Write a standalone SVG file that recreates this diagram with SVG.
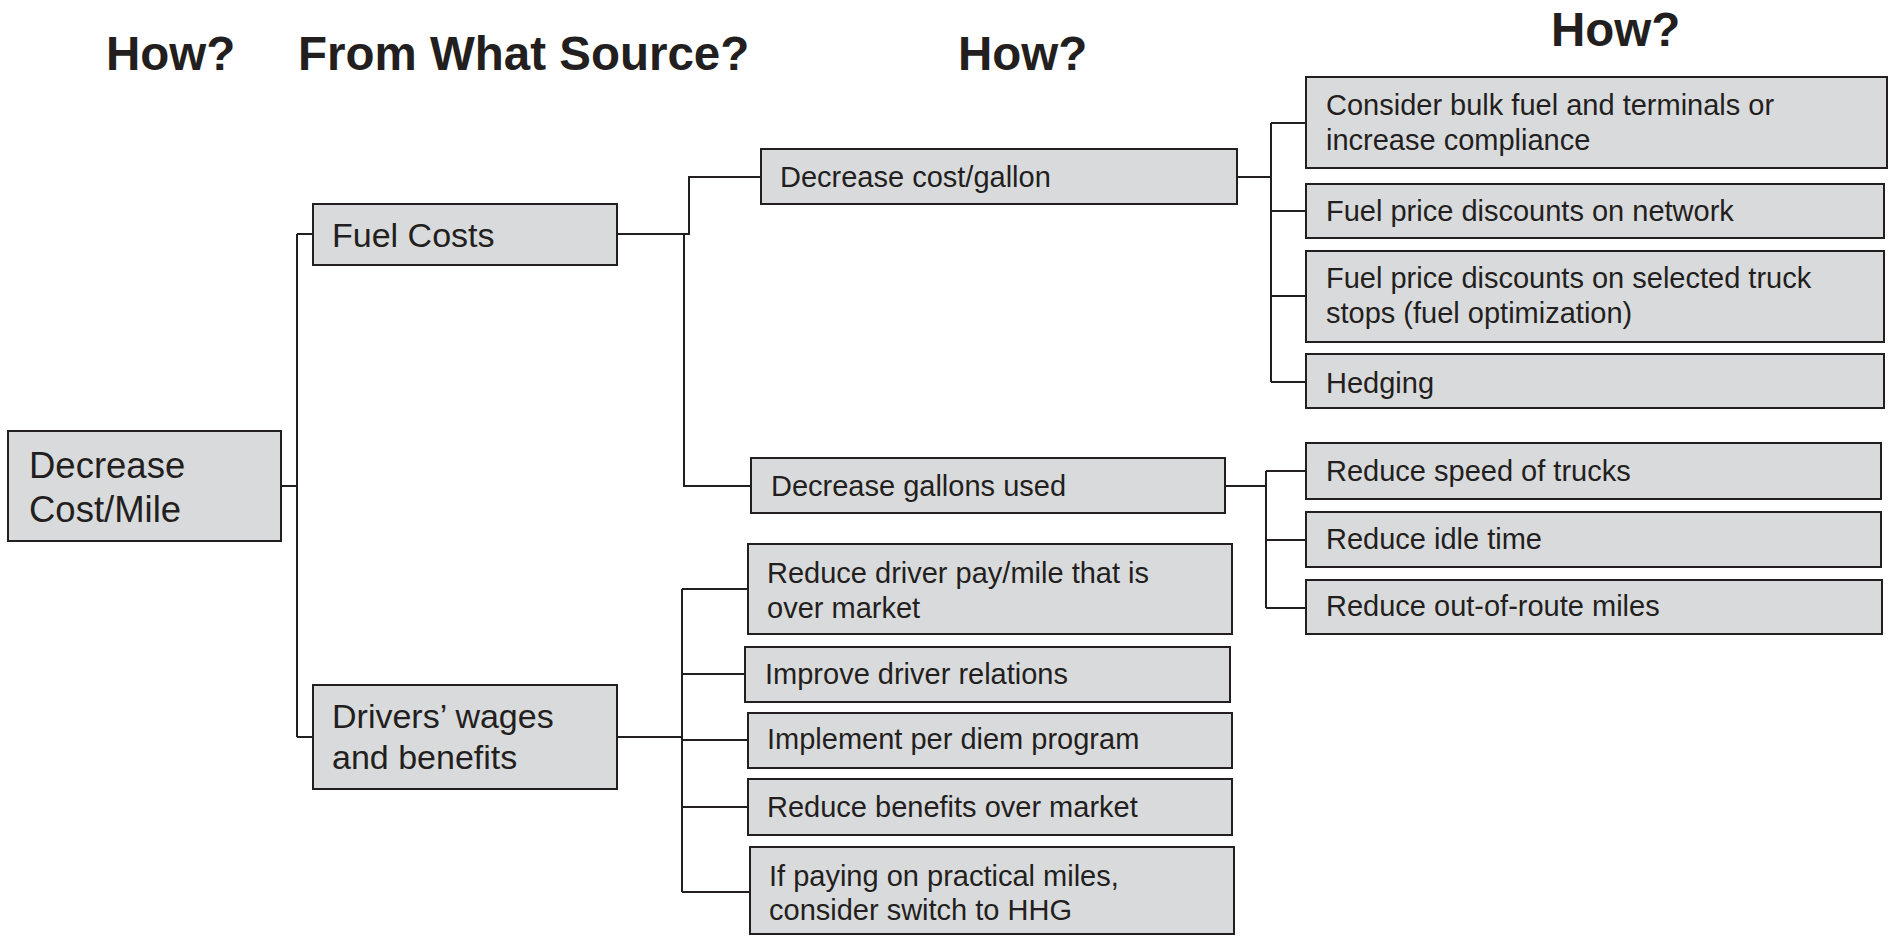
<svg xmlns="http://www.w3.org/2000/svg" width="1894" height="935" viewBox="0 0 1894 935">
  <style>
    .bg { fill: #ffffff; }
    .box { fill: #d9dadb; stroke: #231f20; stroke-width: 2; }
    .hdr { font-family: "Liberation Sans", Arial, sans-serif; font-weight: bold; font-size: 47.5px; fill: #231f20; }
    .t { font-family: "Liberation Sans", Arial, sans-serif; font-size: 29px; fill: #231f20; }
    .t1 { font-family: "Liberation Sans", Arial, sans-serif; font-size: 34px; fill: #231f20; }
    .t0 { font-family: "Liberation Sans", Arial, sans-serif; font-size: 36.5px; fill: #231f20; }
    .wire { fill: none; stroke: #231f20; stroke-width: 2; }
  </style>
  <rect class="bg" x="0" y="0" width="1894" height="935"/>

  <!-- column headings -->
  <g id="headings">
    <text class="hdr" x="106" y="70">How?</text>
    <text class="hdr" x="298" y="70">From What Source?</text>
    <text class="hdr" x="958" y="70">How?</text>
    <text class="hdr" x="1551" y="46">How?</text>
  </g>

  <!-- connectors -->
  <g id="connectors">
    <!-- root to level 1 -->
    <path class="wire" d="M281,486 H297 M297,234 V737 M297,234 H313 M297,737 H313"/>
    <!-- fuel costs to level 2 -->
    <path class="wire" d="M617,234 H689 V177 H761 M684,234 V486 H751"/>
    <!-- decrease cost/gallon to level 3 -->
    <path class="wire" d="M1237,177 H1271 M1271,123 V382 M1271,123 H1306 M1271,211 H1306 M1271,296 H1306 M1271,382 H1306"/>
    <!-- decrease gallons used to level 3 -->
    <path class="wire" d="M1225,486 H1266 M1266,471 V608 M1266,471 H1306 M1266,540 H1306 M1266,608 H1306"/>
    <!-- drivers' wages to level 2 -->
    <path class="wire" d="M617,737 H682 M682,589 V892 M682,589 H748 M682,674 H745 M682,740 H748 M682,807 H748 M682,892 H750"/>
  </g>

  <!-- root -->
  <g id="decrease-cost-mile">
    <rect class="box" x="8" y="431" width="273" height="110"/>
    <text class="t0" x="29" y="478">Decrease</text>
    <text class="t0" x="29" y="522">Cost/Mile</text>
  </g>

  <!-- level 1 -->
  <g id="fuel-costs">
    <rect class="box" x="313" y="204" width="304" height="61"/>
    <text class="t1" x="332" y="247">Fuel Costs</text>
  </g>
  <g id="drivers-wages">
    <rect class="box" x="313" y="685" width="304" height="104"/>
    <text class="t1" x="332" y="728">Drivers’ wages</text>
    <text class="t1" x="332" y="769">and benefits</text>
  </g>

  <!-- level 2 -->
  <g id="decrease-cost-gallon">
    <rect class="box" x="761" y="149" width="476" height="55"/>
    <text class="t" x="780" y="187">Decrease cost/gallon</text>
  </g>
  <g id="decrease-gallons-used">
    <rect class="box" x="751" y="458" width="474" height="55"/>
    <text class="t" x="771" y="496">Decrease gallons used</text>
  </g>
  <g id="reduce-driver-pay">
    <rect class="box" x="748" y="544" width="484" height="90"/>
    <text class="t" x="767" y="583">Reduce driver pay/mile that is</text>
    <text class="t" x="767" y="618">over market</text>
  </g>
  <g id="improve-driver-relations">
    <rect class="box" x="745" y="647" width="485" height="55"/>
    <text class="t" x="765" y="684">Improve driver relations</text>
  </g>
  <g id="per-diem">
    <rect class="box" x="748" y="713" width="484" height="55"/>
    <text class="t" x="767" y="749">Implement per diem program</text>
  </g>
  <g id="reduce-benefits">
    <rect class="box" x="748" y="779" width="484" height="56"/>
    <text class="t" x="767" y="817">Reduce benefits over market</text>
  </g>
  <g id="practical-miles">
    <rect class="box" x="750" y="847" width="484" height="87"/>
    <text class="t" x="769" y="886">If paying on practical miles,</text>
    <text class="t" x="769" y="920">consider switch to HHG</text>
  </g>

  <!-- level 3 -->
  <g id="bulk-fuel">
    <rect class="box" x="1306" y="77" width="581" height="91"/>
    <text class="t" x="1326" y="115">Consider bulk fuel and terminals or</text>
    <text class="t" x="1326" y="150">increase compliance</text>
  </g>
  <g id="network-discounts">
    <rect class="box" x="1306" y="184" width="578" height="54"/>
    <text class="t" x="1326" y="221">Fuel price discounts on network</text>
  </g>
  <g id="truck-stop-discounts">
    <rect class="box" x="1306" y="251" width="578" height="91"/>
    <text class="t" x="1326" y="288">Fuel price discounts on selected truck</text>
    <text class="t" x="1326" y="323">stops (fuel optimization)</text>
  </g>
  <g id="hedging">
    <rect class="box" x="1306" y="354" width="578" height="54"/>
    <text class="t" x="1326" y="393">Hedging</text>
  </g>
  <g id="reduce-speed">
    <rect class="box" x="1306" y="443" width="575" height="56"/>
    <text class="t" x="1326" y="481">Reduce speed of trucks</text>
  </g>
  <g id="reduce-idle">
    <rect class="box" x="1306" y="512" width="575" height="55"/>
    <text class="t" x="1326" y="549">Reduce idle time</text>
  </g>
  <g id="out-of-route">
    <rect class="box" x="1306" y="580" width="576" height="54"/>
    <text class="t" x="1326" y="616">Reduce out-of-route miles</text>
  </g>
</svg>
